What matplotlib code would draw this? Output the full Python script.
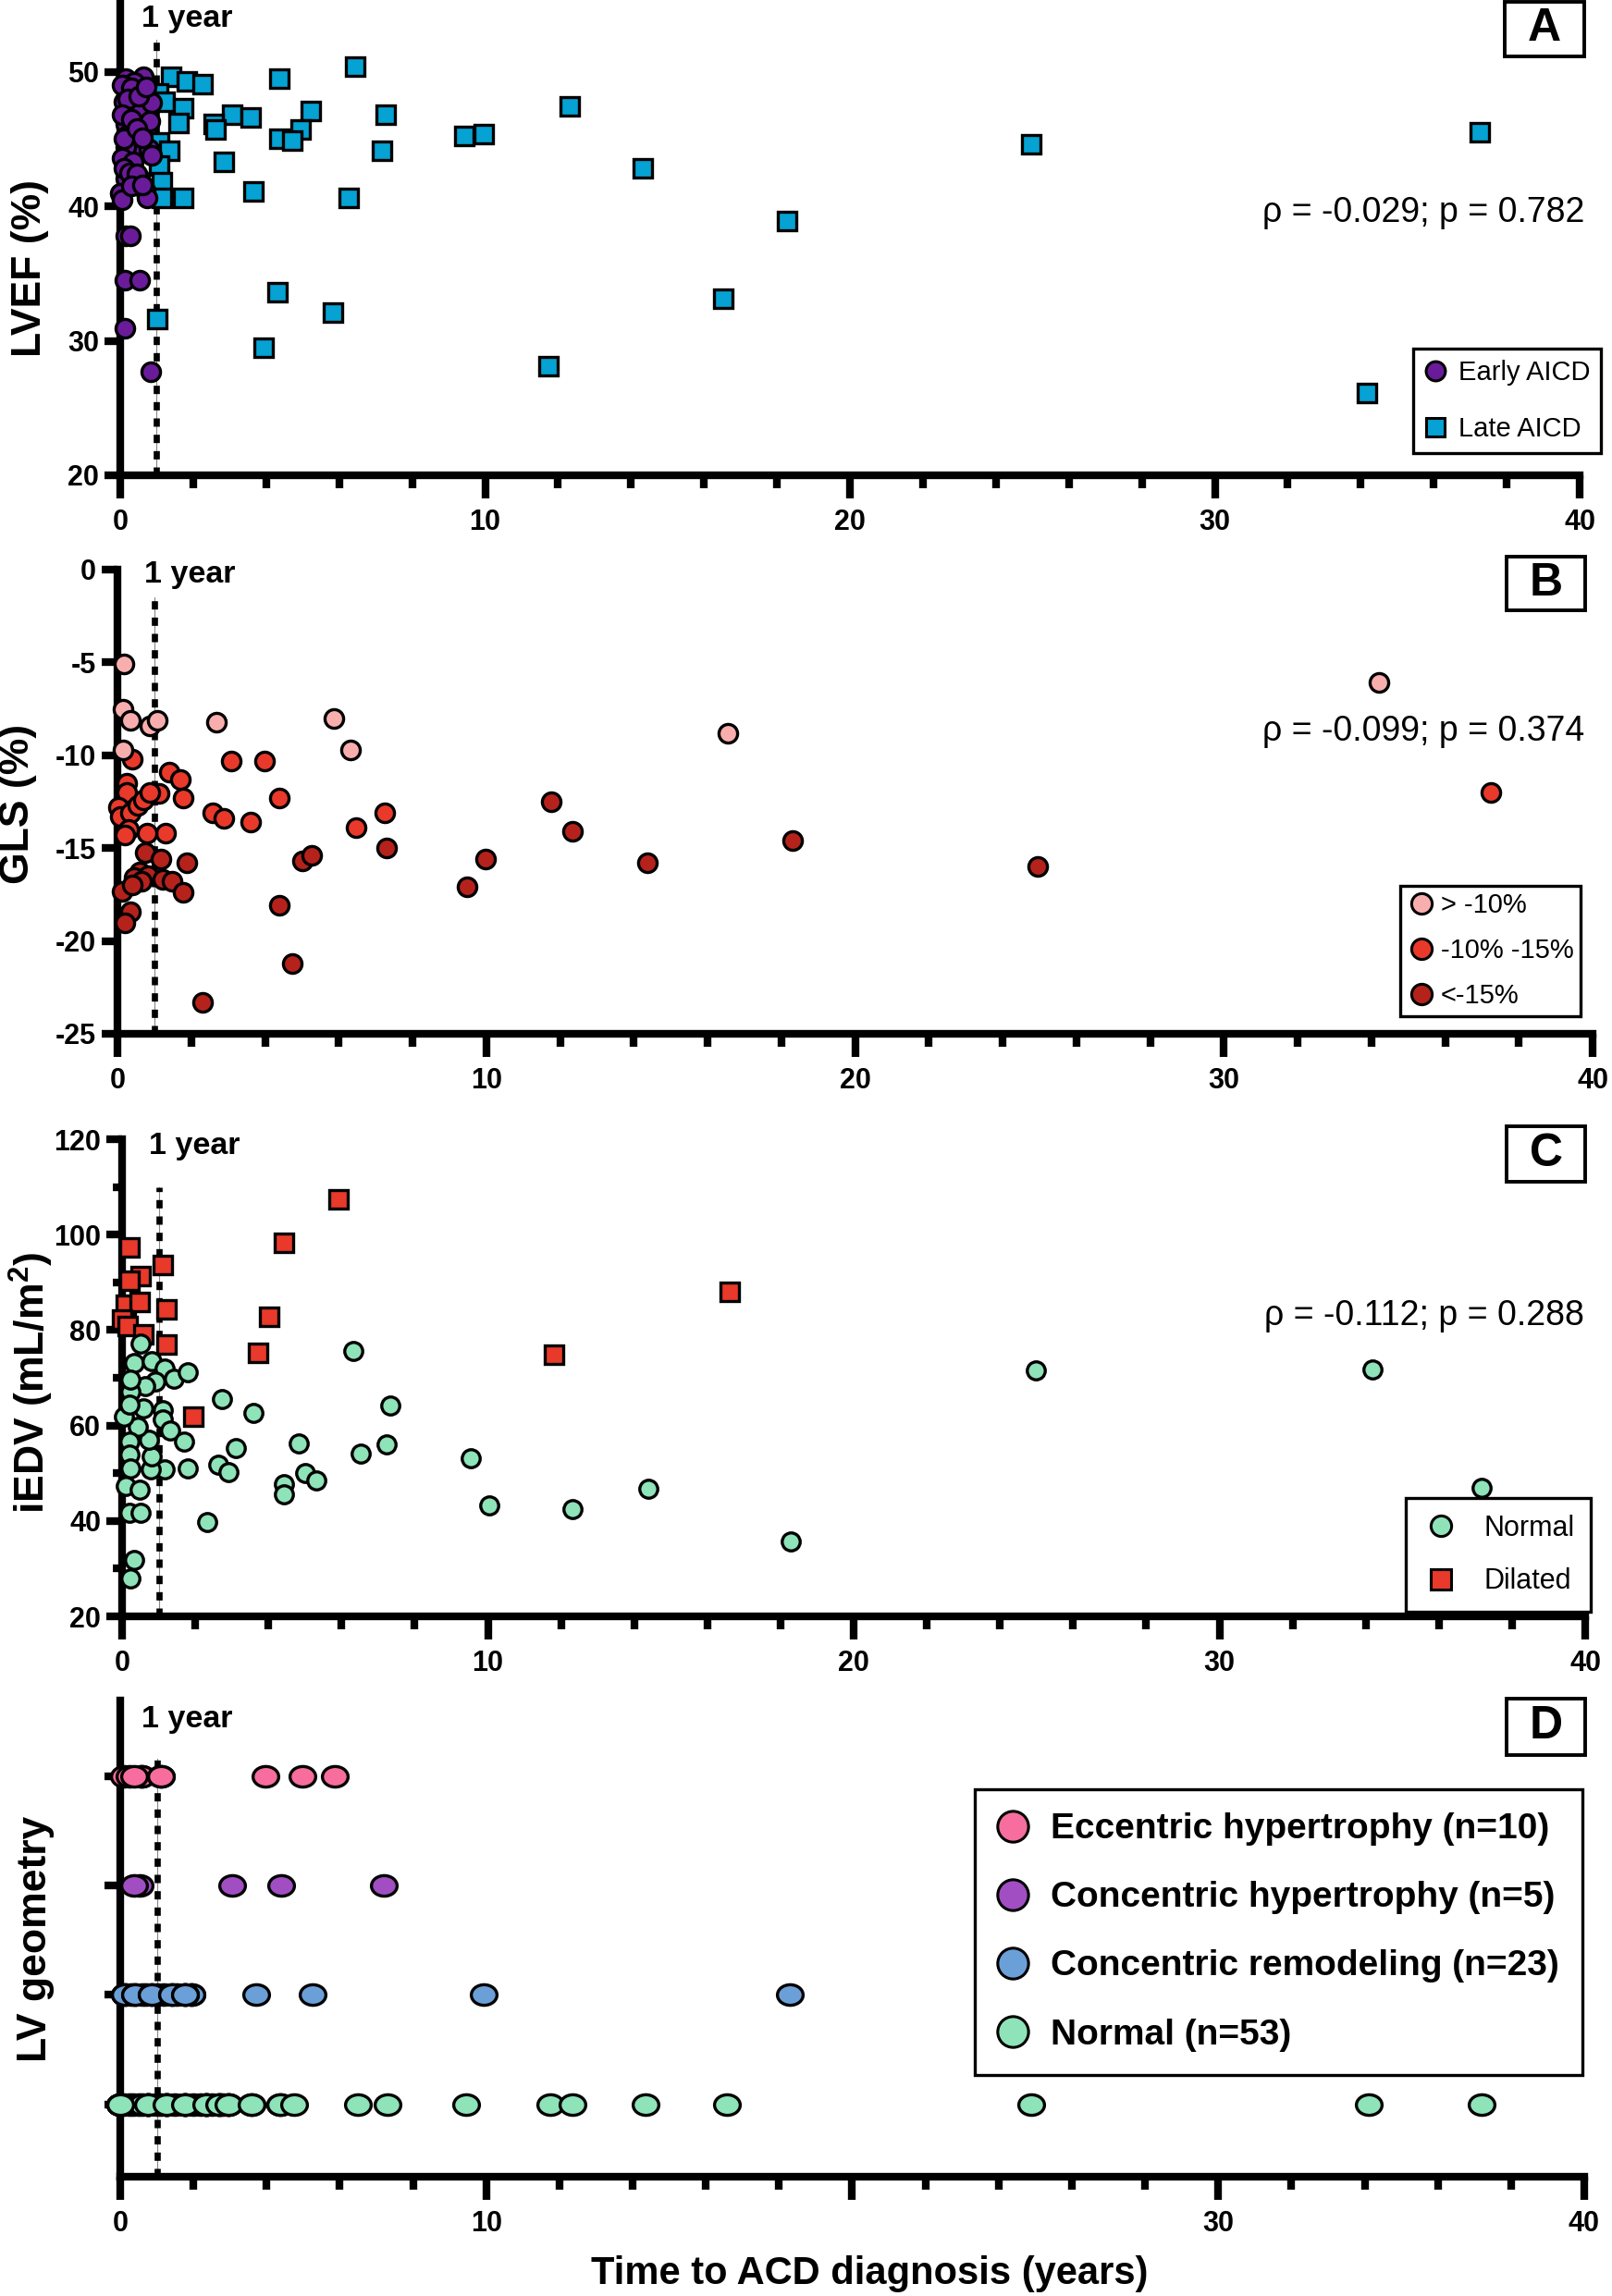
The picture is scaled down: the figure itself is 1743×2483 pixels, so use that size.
"""Four stacked scatter panels: LVEF, GLS, iEDV and LV geometry vs time to ACD diagnosis."""
import matplotlib

matplotlib.use("Agg")
import matplotlib.pyplot as plt
from matplotlib import font_manager
from matplotlib.lines import Line2D
from matplotlib.patches import Rectangle
from matplotlib.path import Path
from matplotlib.ticker import MultipleLocator
from matplotlib.transforms import Affine2D

W, H = 1743, 2483

# ---- panel A: LVEF (%) ----
early_x = [0.15, 0.63, 0.39, 0.08, 0.37, 0.10, 0.56, 0.87, 0.15, 0.24, 0.42, 0.15, 0.78,
           0.15, 0.53, 0.00, 0.05, 0.68, 0.73, 0.15, 0.29, 0.12, 0.53, 0.12, 0.83,
           0.05, 0.30, 0.20, 0.50, 0.70, 0.05, 0.30, 0.80, 0.10, 0.45, 0.60, 0.05,
           0.35, 0.85, 0.10, 0.25, 0.45, 0.30, 0.60]
early_y = [49.5, 49.6, 49.2, 49.0, 48.4, 47.8, 47.0, 47.7, 46.1, 45.4, 43.9, 44.4, 44.3,
           42.1, 42.1, 41.0, 40.5, 41.2, 40.6, 37.8, 37.8, 34.5, 34.5, 30.9, 27.7,
           49.0, 48.8, 48.0, 48.2, 48.9, 46.8, 46.5, 46.3, 45.0, 45.8, 45.1, 43.6,
           43.3, 43.8, 42.8, 42.5, 42.4, 41.5, 41.6]
late_x = [6.44, 1.39, 1.83, 2.25, 4.35, 1.04, 1.21, 1.73, 5.22, 7.28, 3.06, 3.57, 1.60,
          2.55, 2.60, 4.95, 4.35, 4.72, 9.42, 9.95, 7.18, 1.07, 1.34, 2.83, 1.07, 1.15,
          1.15, 1.73, 3.65, 6.26, 4.32, 1.02, 5.83, 3.93, 11.74, 12.32, 14.32, 18.28,
          16.53, 24.97, 37.26, 34.17]
late_y = [50.4, 49.6, 49.3, 49.1, 49.5, 48.4, 47.8, 47.3, 47.1, 46.8, 46.8, 46.6, 46.2,
          46.1, 45.7, 45.7, 45.0, 44.9, 45.2, 45.4, 44.1, 44.75, 44.1, 43.3, 43.0, 41.8,
          40.6, 40.6, 41.1, 40.6, 33.6, 31.6, 32.1, 29.5, 28.1, 47.4, 42.8, 38.9,
          33.1, 44.6, 45.5, 26.1]

# ---- panel B: GLS (%) ----
gls_hi_x = [0.18, 0.16, 0.34, 0.88, 1.07, 0.16, 2.69, 5.88, 6.31, 16.56, 34.2]
gls_hi_y = [-5.1, -7.5, -8.1, -8.4, -8.1, -9.7, -8.2, -8.0, -9.7, -8.8, -6.1]
gls_mid_x = [0.40, 1.41, 1.70, 1.79, 1.14, 3.09, 3.98, 4.39, 2.59, 2.88, 3.60, 7.24, 6.48,
             1.31, 0.79, 0.24, 0.24, 0.02, 0.07, 0.36, 0.55, 0.69, 0.88, 0.31, 0.21, 37.23]
gls_mid_y = [-10.2, -10.9, -11.3, -12.3, -12.05, -10.3, -10.3, -12.3, -13.1, -13.4, -13.6,
             -13.1, -13.9, -14.2, -14.2, -11.5, -12.0, -12.8, -13.3, -13.1, -12.7, -12.4,
             -12.0, -14.0, -14.3, -12.0]
gls_lo_x = [0.74, 1.17, 1.89, 7.31, 5.01, 5.27, 9.47, 9.97, 4.39, 4.75, 2.30, 0.60, 0.45,
            0.83, 1.22, 1.49, 1.78, 0.12, 0.34, 0.21, 0.64, 0.40, 11.77, 12.35, 14.37,
            18.3, 24.96]
gls_lo_y = [-15.25, -15.6, -15.8, -15.0, -15.7, -15.4, -17.1, -15.6, -18.1, -21.2, -23.3,
            -16.3, -16.6, -16.5, -16.7, -16.8, -17.4, -17.35, -18.45, -19.0, -16.8, -17.0,
            -12.5, -14.1, -15.8, -14.6, -16.0]

# ---- panel C: iEDV (mL/m2) ----
dil_x = [0.19, 0.51, 0.19, 1.12, 0.10, 0.49, 1.21, 0.00, 0.15, 0.58, 1.21, 1.94, 3.72,
         4.01, 4.42, 5.92, 11.82, 16.6]
dil_y = [97.3, 91.3, 90.4, 93.7, 85.4, 85.9, 84.4, 82.3, 80.9, 79.2, 77.0, 61.9, 75.2,
         82.8, 98.2, 107.4, 74.8, 88.0]
nrm_x = [0.51, 0.32, 0.81, 1.17, 1.41, 1.80, 0.90, 0.63, 0.22, 0.22, 0.58, 1.10, 1.12,
         1.31, 1.70, 1.80, 1.17, 0.78, 0.81, 0.73, 0.42, 0.19, 0.19, 0.22, 0.05, 0.10,
         0.49, 0.19, 0.51, 0.32, 0.22, 0.19, 2.72, 3.59, 2.62, 2.91, 3.11, 2.33, 4.42,
         4.42, 5.00, 5.32, 4.83, 6.33, 6.53, 7.23, 7.33, 9.53, 10.03, 12.31, 14.39,
         18.28, 24.97, 34.18, 37.17]
nrm_y = [77.1, 73.1, 73.5, 71.9, 69.8, 71.1, 69.3, 68.2, 67.1, 69.6, 63.6, 63.2, 61.2,
         58.9, 56.7, 51.1, 50.8, 50.8, 53.6, 57.0, 59.8, 56.7, 53.9, 51.1, 61.9, 47.3,
         46.6, 41.8, 41.7, 31.8, 28.0, 64.3, 65.5, 62.6, 51.8, 50.2, 55.3, 39.7, 47.7,
         45.6, 50.1, 48.5, 56.3, 75.6, 54.1, 56.0, 64.1, 53.1, 43.2, 42.5, 46.8, 35.7,
         71.5, 71.8, 47.0]

# ---- panel D: LV geometry (category rows, top to bottom) ----
geo_labels = ["Eccentric hypertrophy (n=10)", "Concentric hypertrophy (n=5)",
              "Concentric remodeling (n=23)", "Normal (n=53)"]
geo_levels = [4, 3, 2, 1]
# overlapping points near zero are listed first so the visible ones sit on top
ecc_x = [0.10, 0.25, 0.58, 0.58, 0.37, 1.11, 1.11, 3.97, 4.98, 5.86]
conc_x = [0.53, 0.37, 3.06, 4.40, 7.20]
remod_x = [0.13, 0.30, 0.60, 0.70, 1.00, 1.20, 1.55, 1.94, 1.94, 1.77, 0.13, 0.40, 0.40,
           0.86, 0.86, 1.41, 1.41, 1.77, 1.77, 3.71, 5.25, 9.94, 18.3]
geo_nrm_x = [0.00, 0.00, 0.25, 0.35, 0.50, 0.76, 0.76, 1.00, 1.26, 1.26, 1.50, 1.77, 1.77,
             2.00, 2.35, 2.35, 2.50, 2.70, 2.70, 2.95, 2.95, 0.00, 0.76, 1.26, 1.77, 2.35,
             0.10, 0.60, 1.10, 2.20, 2.80, 3.60, 4.37,
             0.00, 0.76, 1.26, 1.77, 2.35, 2.70, 2.95, 3.60, 4.37, 4.75, 6.50, 7.30, 9.44,
             11.76, 12.35, 14.34, 16.57, 24.9, 34.1, 37.2]

d_xticks = [0, 10, 20, 30, 40]
d_xticklabels = ["0", "10", "", "30", "40"]

EARLY = "#6a1b9a"
LATE = "#05a2d3"
PINK = "#f9aeae"
RED = "#e8392b"
DARKRED = "#b5221c"
MINT = "#8ee3b9"
ECC = "#f76d9d"
CONC = "#a04ec2"
REMOD = "#6b9fd8"

installed = {f.name for f in font_manager.fontManager.ttflist}
FONT = "Liberation Sans" if "Liberation Sans" in installed else "DejaVu Sans"
plt.rcParams["font.family"] = [FONT, "DejaVu Sans"]
plt.rcParams["font.weight"] = "bold"
plt.rcParams["axes.labelweight"] = "bold"
plt.rcParams["axes.unicode_minus"] = False
plt.rcParams["mathtext.fontset"] = "custom"
plt.rcParams["mathtext.bf"] = f"{FONT}:bold"
plt.rcParams["mathtext.rm"] = f"{FONT}:bold"

ELLIPSE = Path(Affine2D().scale(1, 0.8).transform_path(Path.unit_circle()).vertices,
               Path.unit_circle().codes)

fig = plt.figure(figsize=(W / 100, H / 100), dpi=100, facecolor="white")


def px_box(x0, y0, x1, y1):
    return [x0 / W, 1 - y1 / H, (x1 - x0) / W, (y1 - y0) / H]


def style_axes(ax):
    for side in ("top", "right"):
        ax.spines[side].set_visible(False)
    for side in ("left", "bottom"):
        ax.spines[side].set_linewidth(6)
    ax.set_xlim(0, 40)
    ax.xaxis.set_major_locator(MultipleLocator(10))
    ax.xaxis.set_minor_locator(MultipleLocator(2))
    ax.tick_params(axis="x", which="major", length=18, width=6, pad=8, labelsize=22)
    ax.tick_params(axis="x", which="minor", length=10, width=6)
    ax.tick_params(axis="y", which="major", length=12.5, width=6, pad=4, labelsize=22)
    ax.tick_params(axis="y", which="minor", length=7, width=6)


def one_year(ax, y_top, tx, ty):
    lo, hi = ax.get_ylim()
    frac = (y_top - lo) / (hi - lo)
    ax.axvline(1, ymin=0, ymax=frac, color="#888888", lw=0.8, zorder=1)
    ax.axvline(1, ymin=0, ymax=frac, color="black", lw=4.8, ls=(0, (1.35, 1.3)), zorder=1)
    ax.text(tx, ty, "1 year", fontsize=24.5, fontweight="bold", ha="left", va="center")


def panel_letter(letter, x0, y0, x1, y1):
    fig.add_artist(Rectangle((x0 / W, 1 - y1 / H), (x1 - x0) / W, (y1 - y0) / H,
                             transform=fig.transFigure, fill=False, ec="black", lw=2.8))
    fig.text((x0 + x1) / 2 / W, 1 - (y0 + y1) / 2 / H, letter, ha="center", va="center",
             fontsize=36, fontweight="bold")


def stat_text(text, x_right, y_center):
    fig.text(x_right / W, 1 - y_center / H, text, ha="right", va="center",
             fontsize=27, fontweight="normal")


def add_legend(ax, handles, labels, x0, y0, size, weight, hl, htp, ls, bp):
    leg = ax.legend(handles, labels, loc="upper left", bbox_to_anchor=(x0 / W, 1 - y0 / H),
                    bbox_transform=fig.transFigure, borderaxespad=0, frameon=True,
                    fancybox=False, edgecolor="black", framealpha=1,
                    prop={"size": size, "weight": weight, "family": FONT},
                    handlelength=hl, handletextpad=htp, labelspacing=ls, borderpad=bp)
    leg.get_frame().set_linewidth(2.4)
    return leg


def handle(marker, color, ms):
    return Line2D([], [], ls="none", marker=marker, ms=ms, mfc=color, mec="black", mew=2.2)


def scatter(ax, x, y, marker, color, ms):
    ax.plot(x, y, ls="none", marker=marker, ms=ms, mfc=color, mec="black", mew=2.4,
            clip_on=False, zorder=3)


# ---------------- A ----------------
axA = fig.add_axes(px_box(130, 2, 1708, 514))
style_axes(axA)
axA.set_ylim(20, 55.2)
axA.set_yticks([20, 30, 40, 50])
scatter(axA, late_x, late_y, "s", LATE, 14.5)
scatter(axA, early_x, early_y, "o", EARLY, 14.5)
one_year(axA, 52.4, 0.58, 53.9)
axA.set_ylabel("LVEF (%)", fontsize=32, va="center")
axA.yaxis.set_label_coords(-0.0615, 0.4375)
add_legend(axA, [handle("o", EARLY, 15), handle("s", LATE, 15)], ["Early AICD", "Late AICD"],
           1528, 377, 21, "normal", 0.8, 0.45, 1.12, 0.42)
stat_text("\u03c1 = -0.029; p = 0.782", 1713, 230)
panel_letter("A", 1627, 2, 1713, 61)

# ---------------- B ----------------
axB = fig.add_axes(px_box(127, 616, 1722, 1118))
style_axes(axB)
axB.set_ylim(-25, 0)
axB.set_yticks([0, -5, -10, -15, -20, -25])
scatter(axB, gls_lo_x, gls_lo_y, "o", DARKRED, 14.5)
scatter(axB, gls_mid_x, gls_mid_y, "o", RED, 14.5)
scatter(axB, gls_hi_x, gls_hi_y, "o", PINK, 14.5)
one_year(axB, -1.5, 0.73, -0.25)
axB.set_ylabel("GLS (%)", fontsize=32, va="center")
axB.yaxis.set_label_coords(-0.0677, 0.496)
add_legend(axB, [handle("o", PINK, 16), handle("o", RED, 16), handle("o", DARKRED, 16)],
           ["> -10%", "-10% -15%", "<-15%"], 1514, 958, 21, "normal", 1.1, 0.15, 0.72, 0.25)
stat_text("\u03c1 = -0.099; p = 0.374", 1713, 791)
panel_letter("B", 1629, 602, 1714, 660)

# ---------------- C ----------------
axC = fig.add_axes(px_box(132, 1232, 1714, 1748))
style_axes(axC)
axC.set_ylim(20, 120)
axC.yaxis.set_major_locator(MultipleLocator(20))
axC.yaxis.set_minor_locator(MultipleLocator(10))
scatter(axC, dil_x, dil_y, "s", RED, 14.5)
scatter(axC, nrm_x, nrm_y, "o", MINT, 14)
one_year(axC, 110, 0.73, 118.6)
axC.set_ylabel(r"iEDV (mL/m$^{\mathbf{2}}$)", fontsize=32, va="center")
axC.yaxis.set_label_coords(-0.062, 0.49)
add_legend(axC, [handle("o", MINT, 16), handle("s", RED, 16)], ["Normal", "Dilated"],
           1520, 1620, 22, "normal", 1.33, 0.85, 0.9, 0.58)
stat_text("\u03c1 = -0.112; p = 0.288", 1713, 1423)
panel_letter("C", 1629, 1218, 1714, 1278)

# ---------------- D ----------------
axD = fig.add_axes(px_box(130, 1839, 1713, 2354))
style_axes(axD)
axD.set_ylim(0.34, 4.69)
axD.set_yticks(geo_levels)
axD.set_yticklabels([])
axD.set_xticks(d_xticks)
axD.set_xticklabels(d_xticklabels)
geo_series = [(ecc_x, ECC), (conc_x, CONC), (remod_x, REMOD), (geo_nrm_x, MINT)]
for (xs, color), level in zip(geo_series, geo_levels):
    scatter(axD, xs, [level] * len(xs), ELLIPSE, color, 20)
one_year(axD, 4.16, 0.58, 4.52)
axD.set_ylabel("LV geometry", fontsize=32, va="center")
axD.yaxis.set_label_coords(-0.058, 0.5)
axD.set_xlabel("Time to ACD diagnosis (years)", fontsize=30, va="center")
axD.xaxis.set_label_coords(0.512, -0.204)
add_legend(axD, [handle("o", c, 24) for _, c in geo_series], geo_labels,
           1054, 1935, 28, "bold", 0.8, 0.67, 0.98, 0.65)
panel_letter("D", 1629, 1837, 1714, 1898)

fig.savefig("out.png", dpi=100, facecolor="white")
